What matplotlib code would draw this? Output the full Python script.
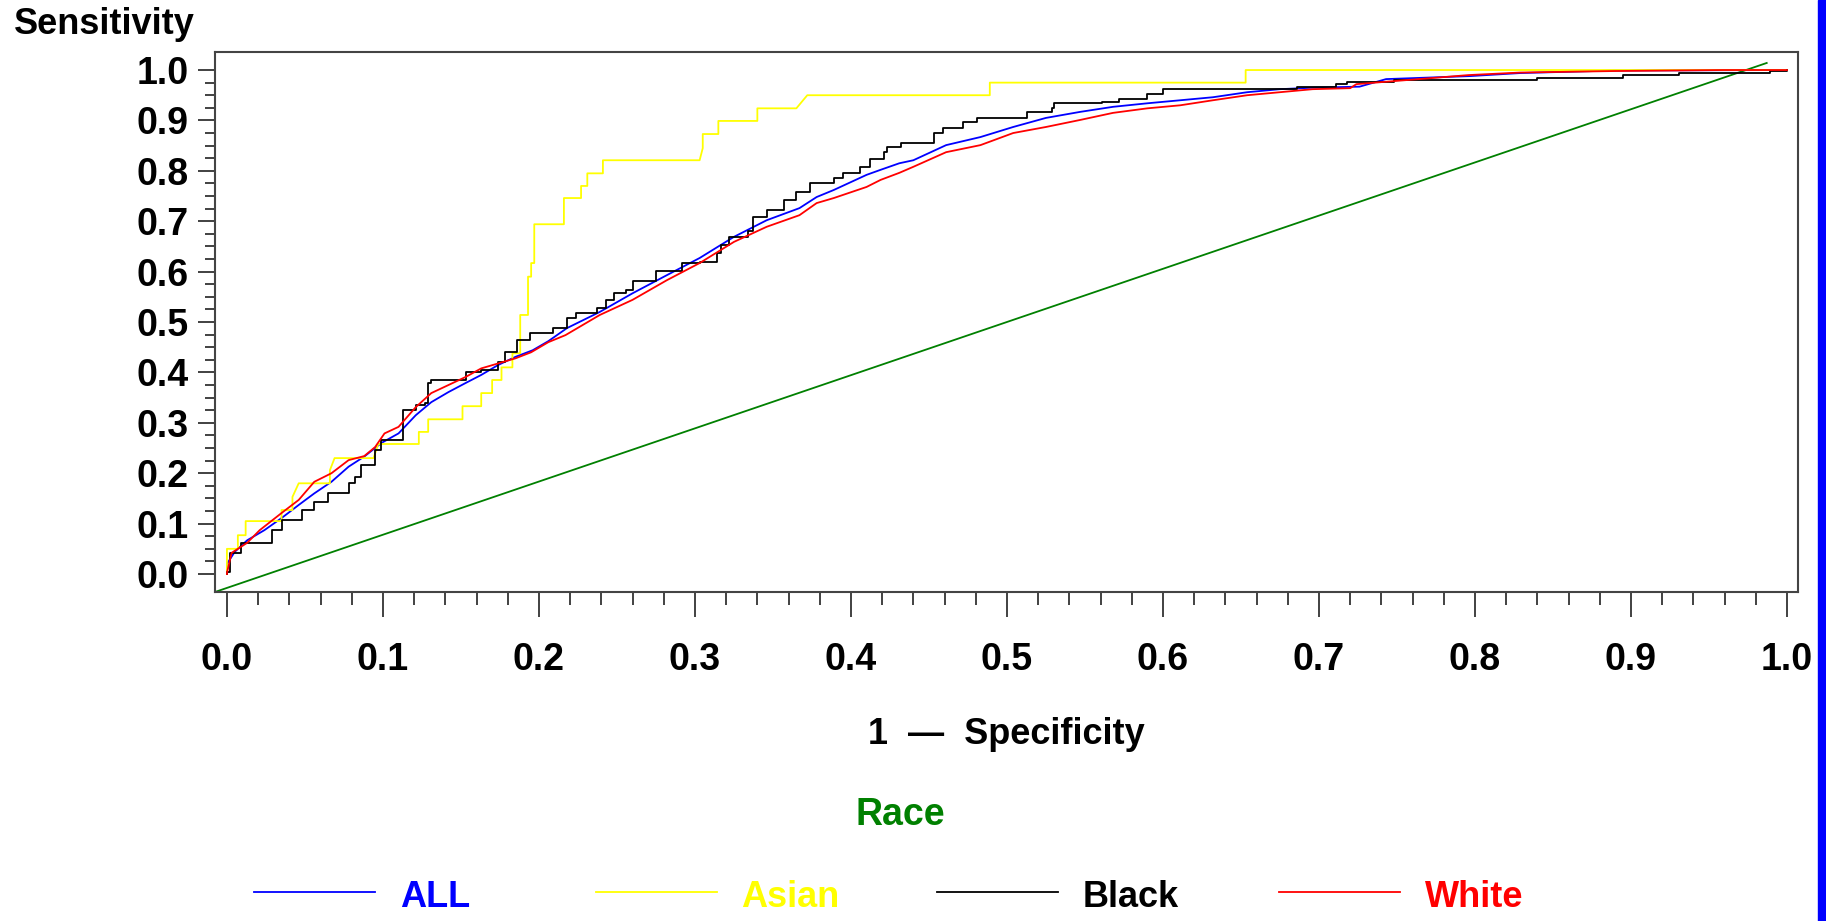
# curvas ROC por raza

import matplotlib.pyplot as plt
import numpy as np
from matplotlib.lines import Line2D
from matplotlib.patches import Rectangle
from matplotlib.ticker import FixedLocator

plt.rcParams['font.family'] = ['Liberation Sans', 'DejaVu Sans']

# datos (1 - especificidad, sensibilidad)
all_fpr = [0.000, 0.000, 0.005, 0.013, 0.024, 0.035, 0.046, 0.056, 0.067, 0.078, 0.088, 0.099,
           0.110, 0.121, 0.131, 0.142, 0.153, 0.163, 0.174, 0.185, 0.196, 0.206, 0.218, 0.239,
           0.260, 0.282, 0.303, 0.325, 0.346, 0.367, 0.378, 0.389, 0.410, 0.419, 0.431, 0.440,
           0.461, 0.483, 0.504, 0.525, 0.547, 0.568, 0.590, 0.611, 0.632, 0.654, 0.675, 0.696,
           0.726, 0.743, 0.797, 0.829, 0.889, 1.000]
all_tpr = [0.000, 0.020, 0.044, 0.067, 0.087, 0.111, 0.137, 0.160, 0.183, 0.213, 0.233, 0.260,
           0.279, 0.315, 0.341, 0.361, 0.379, 0.395, 0.415, 0.431, 0.444, 0.462, 0.488, 0.520,
           0.557, 0.593, 0.627, 0.669, 0.702, 0.726, 0.748, 0.762, 0.792, 0.802, 0.815, 0.821,
           0.851, 0.867, 0.887, 0.905, 0.917, 0.927, 0.934, 0.940, 0.946, 0.956, 0.962, 0.965,
           0.967, 0.982, 0.988, 0.994, 0.999, 1.000]

asian_fpr = [0.000, 0.000, 0.007, 0.007, 0.012, 0.012, 0.035, 0.035, 0.042, 0.042, 0.046, 0.066,
             0.066, 0.069, 0.094, 0.097, 0.123, 0.123, 0.129, 0.129, 0.151, 0.151, 0.163, 0.163,
             0.170, 0.170, 0.176, 0.176, 0.183, 0.183, 0.188, 0.188, 0.193, 0.193, 0.195, 0.195,
             0.197, 0.197, 0.216, 0.216, 0.227, 0.227, 0.231, 0.231, 0.241, 0.241, 0.303, 0.305,
             0.305, 0.315, 0.315, 0.340, 0.340, 0.365, 0.372, 0.489, 0.489, 0.653, 0.653, 1.000]
asian_tpr = [0.000, 0.050, 0.050, 0.077, 0.077, 0.105, 0.105, 0.127, 0.127, 0.153, 0.180, 0.180,
             0.206, 0.230, 0.230, 0.258, 0.258, 0.282, 0.282, 0.307, 0.307, 0.333, 0.333, 0.359,
             0.359, 0.385, 0.385, 0.410, 0.410, 0.438, 0.438, 0.514, 0.514, 0.590, 0.590, 0.617,
             0.617, 0.694, 0.694, 0.746, 0.746, 0.770, 0.770, 0.795, 0.795, 0.821, 0.821, 0.845,
             0.873, 0.873, 0.899, 0.899, 0.924, 0.924, 0.950, 0.950, 0.975, 0.975, 1.000, 1.000]

black_fpr = [0.000, 0.000, 0.002, 0.009, 0.020, 0.029, 0.035, 0.041, 0.048, 0.056, 0.065, 0.074,
             0.078, 0.082, 0.086, 0.095, 0.099, 0.113, 0.121, 0.127, 0.129, 0.131, 0.146, 0.153,
             0.163, 0.174, 0.178, 0.186, 0.194, 0.209, 0.218, 0.224, 0.234, 0.237, 0.243, 0.248,
             0.256, 0.260, 0.275, 0.287, 0.292, 0.303, 0.314, 0.317, 0.322, 0.334, 0.337, 0.346,
             0.357, 0.365, 0.374, 0.389, 0.395, 0.406, 0.412, 0.421, 0.423, 0.432, 0.449, 0.453,
             0.459, 0.472, 0.481, 0.500, 0.513, 0.529, 0.530, 0.561, 0.572, 0.590, 0.600, 0.686,
             0.711, 0.718, 0.748, 0.840, 0.895, 0.931, 0.989, 1.000]
black_tpr = [0.000, 0.004, 0.042, 0.062, 0.062, 0.087, 0.107, 0.107, 0.127, 0.143, 0.161, 0.161,
             0.180, 0.193, 0.216, 0.246, 0.266, 0.325, 0.335, 0.340, 0.379, 0.385, 0.385, 0.401,
             0.405, 0.421, 0.440, 0.464, 0.478, 0.488, 0.508, 0.518, 0.518, 0.528, 0.544, 0.557,
             0.563, 0.581, 0.601, 0.601, 0.617, 0.620, 0.637, 0.653, 0.669, 0.681, 0.708, 0.722,
             0.742, 0.758, 0.776, 0.786, 0.796, 0.808, 0.823, 0.837, 0.848, 0.855, 0.855, 0.875,
             0.885, 0.897, 0.905, 0.905, 0.917, 0.925, 0.935, 0.937, 0.942, 0.952, 0.962, 0.966,
             0.972, 0.976, 0.980, 0.984, 0.990, 0.995, 0.999, 1.000]

white_fpr = [0.000, 0.000, 0.003, 0.013, 0.021, 0.035, 0.046, 0.056, 0.067, 0.078, 0.088, 0.095,
             0.101, 0.110, 0.121, 0.131, 0.142, 0.153, 0.163, 0.174, 0.185, 0.195, 0.206, 0.217,
             0.239, 0.260, 0.282, 0.303, 0.325, 0.346, 0.367, 0.378, 0.389, 0.410, 0.419, 0.431,
             0.440, 0.461, 0.483, 0.504, 0.525, 0.547, 0.568, 0.590, 0.611, 0.632, 0.654, 0.675,
             0.696, 0.720, 0.724, 0.748, 0.796, 0.829, 0.889, 0.959, 1.000]
white_tpr = [0.000, 0.002, 0.042, 0.062, 0.087, 0.121, 0.147, 0.183, 0.200, 0.226, 0.234, 0.252,
             0.279, 0.292, 0.331, 0.359, 0.375, 0.391, 0.408, 0.418, 0.428, 0.440, 0.460, 0.474,
             0.514, 0.544, 0.583, 0.617, 0.659, 0.689, 0.712, 0.736, 0.746, 0.768, 0.782, 0.796,
             0.808, 0.837, 0.851, 0.875, 0.887, 0.901, 0.915, 0.924, 0.930, 0.940, 0.950, 0.956,
             0.962, 0.964, 0.972, 0.978, 0.990, 0.995, 0.998, 1.000, 1.000]

# linea de referencia
ref_x = [-0.008, 0.987]
ref_y = [-0.036, 1.014]

labels = ['ALL', 'Asian', 'Black', 'White']
colors = ['#0000ff', '#ffff00', '#000000', '#ff0000']

fig = plt.figure(figsize=(18.26, 9.21), dpi=100)
ax = fig.add_axes([0.1177, 0.3572, 0.867, 0.5863])

ax.plot(ref_x, ref_y, color='#008000', lw=1.3)
ax.plot(all_fpr, all_tpr, color=colors[0], lw=1.3)
ax.plot(asian_fpr, asian_tpr, color=colors[1], lw=1.3)
ax.plot(black_fpr, black_tpr, color=colors[2], lw=1.3, drawstyle='steps-post')
ax.plot(white_fpr, white_tpr, color=colors[3], lw=1.3)

ax.set_xlim(-0.0077, 1.0071)
ax.set_ylim(-0.0357, 1.0357)

ax.set_xticks(np.arange(0, 1.01, 0.1))
ax.set_yticks(np.arange(0, 1.01, 0.1))
ax.xaxis.set_minor_locator(FixedLocator(np.arange(0, 1.001, 0.02)))
ax.yaxis.set_minor_locator(FixedLocator(np.arange(0, 1.001, 0.025)))
ax.set_xticklabels(['%.1f' % v for v in np.arange(0, 1.01, 0.1)], fontsize=27, fontweight='bold')
ax.set_yticklabels(['%.1f' % v for v in np.arange(0, 1.01, 0.1)], fontsize=27, fontweight='bold')

ax.tick_params(axis='x', which='major', length=18, width=1.3, pad=18, color='#333333')
ax.tick_params(axis='x', which='minor', length=9, width=1.3, color='#333333')
ax.tick_params(axis='y', which='major', length=12, width=1.3, pad=7, color='#333333')
ax.tick_params(axis='y', which='minor', length=7, width=1.3, color='#333333')
for s in ax.spines.values():
    s.set_color('#444444')
    s.set_linewidth(1.5)

fig.text(0.0075, 0.973, 'Sensitivity', fontsize=26, fontweight='bold', ha='left', va='center')
fig.text(0.551, 0.203, '1  \u2014  Specificity', fontsize=26, fontweight='bold', ha='center', va='center')

# leyenda
fig.text(0.4929, 0.115, 'Race', fontsize=27, fontweight='bold', color='#008000', ha='center', va='center')
for i in range(4):
    x0 = (254 + i * 341.5) / 1826
    x1 = x0 + 121 / 1826
    fig.add_artist(Line2D([x0, x1], [0.0315, 0.0315], color=colors[i], lw=1.3,
                          transform=fig.transFigure))
    fig.text(x1 + 25 / 1826, 0.026, labels[i], fontsize=26, fontweight='bold',
             color=colors[i], ha='left', va='center')

# barra azul del borde derecho
fig.add_artist(Rectangle((1818 / 1826, 0), 8 / 1826, 1, color='#0000ff',
                         transform=fig.transFigure))

plt.savefig('out.png', dpi=100)
